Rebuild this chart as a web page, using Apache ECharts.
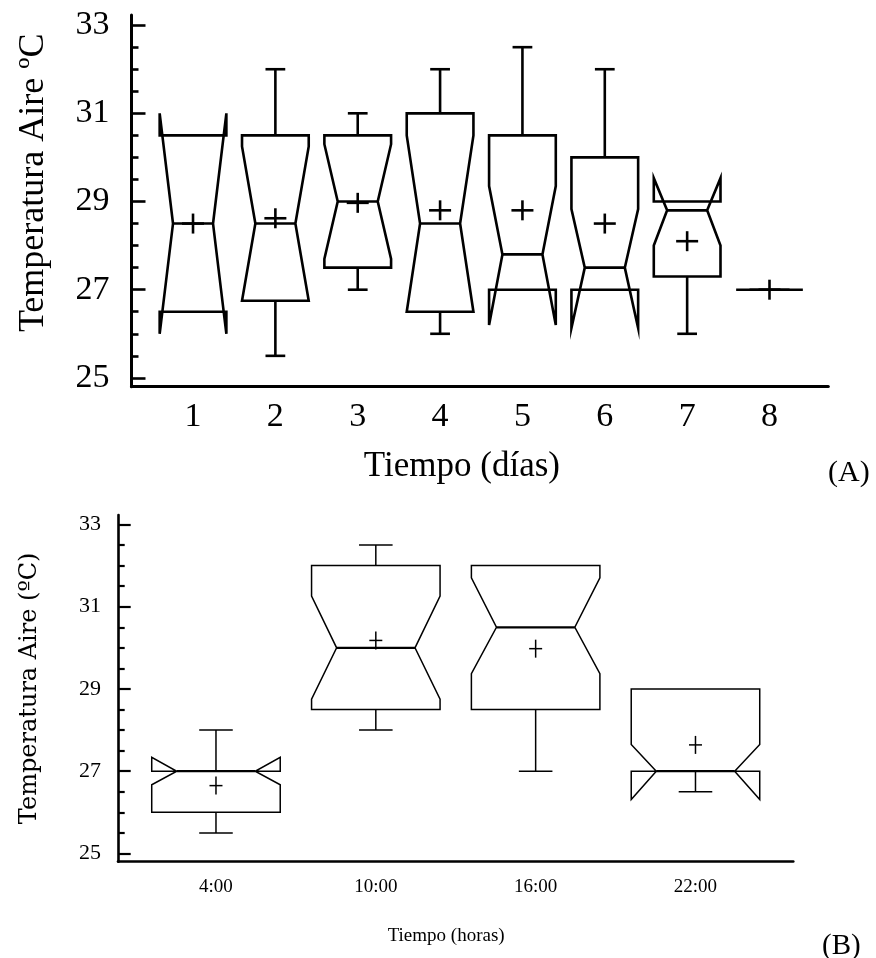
<!DOCTYPE html>
<html>
<head>
<meta charset="utf-8">
<script src="https://cdn.jsdelivr.net/npm/echarts@6/dist/echarts.min.js"></script>
<style>
  html, body { margin: 0; padding: 0; background: #fff; }
  #chart { width: 876px; height: 958px; }
</style>
</head>
<body>
<div id="chart"></div>
<script>
// Panel A: air temperature per day (notched box plots)
const dayLabels   = ['1', '2', '3', '4', '5', '6', '7', '8'];
const dayMin      = [26.5, 25.5, 27.0, 26.0, 27.0, 27.0, 26.0, 27.0];
const dayQ1       = [26.5, 26.75, 27.5, 26.5, 27.0, 27.0, 27.3, 27.0];
const dayNotchLo  = [26.0, 26.75, 27.7, 26.5, 26.2, 26.13, 28.0, 27.0];
const dayMedian   = [28.5, 28.5, 29.0, 28.5, 27.8, 27.5, 28.8, 27.0];
const dayNotchHi  = [31.0, 30.25, 30.3, 30.5, 29.35, 28.83, 29.53, 27.0];
const dayQ3       = [30.5, 30.5, 30.5, 31.0, 30.5, 30.0, 29.0, 27.0];
const dayMax      = [30.5, 32.0, 31.0, 32.0, 32.5, 32.0, 29.0, 27.0];
const dayMean     = [28.5, 28.62, 28.97, 28.8, 28.8, 28.5, 28.1, 27.0];

// Panel B: air temperature per hour of day
const hourLabels  = ['4:00', '10:00', '16:00', '22:00'];
const hourMin     = [25.5, 28.0, 27.0, 26.5];
const hourQ1      = [26.0, 28.5, 28.5, 27.0];
const hourNotchLo = [26.67, 28.75, 29.37, 26.31];
const hourMedian  = [27.0, 30.0, 30.5, 27.0];
const hourNotchHi = [27.34, 31.26, 31.7, 27.65];
const hourQ3      = [27.0, 32.0, 32.0, 29.0];
const hourMax     = [28.0, 32.5, 32.0, 29.0];
const hourMean    = [26.65, 30.18, 29.98, 27.64];

// shared temperature ticks
const tempTicks      = [25, 27, 29, 31, 33];
const tempMinorTicks = [25.5, 26, 26.5, 27.5, 28, 28.5, 29.5, 30, 30.5, 31.5, 32, 32.5];

const serif = "'Liberation Serif', 'Times New Roman', serif";

const buildRows = (labels, mn, q1, nLo, med, nHi, q3, mx, mean) =>
  labels.map((_, i) => [i + 1, mn[i], q1[i], nLo[i], med[i], nHi[i], q3[i], mx[i], mean[i]]);

// notched box drawn through the axis scales
const notchedBox = cfg => (params, api) => {
  const x = api.value(0);
  const [lo, q1, nLo, med, nHi, q3, hi, mean] = [1, 2, 3, 4, 5, 6, 7, 8].map(d => api.value(d));
  const half = cfg.boxWidth / 2;
  const ind = cfg.boxWidth * cfg.notch;
  const p = (dx, v) => api.coord([x + dx, v]);
  const stroke = { stroke: '#000', lineWidth: cfg.lineWidth, fill: null };
  const children = [];

  children.push({
    type: 'polygon',
    shape: {
      points: [
        p(-half, q3), p(-half, nHi), p(-half + ind, med), p(-half, nLo), p(-half, q1),
        p(half, q1), p(half, nLo), p(half - ind, med), p(half, nHi), p(half, q3)
      ]
    },
    style: stroke
  });
  children.push({
    type: 'polyline',
    shape: { points: [p(-half + ind, med), p(half - ind, med)] },
    style: { stroke: '#000', lineWidth: cfg.medianWidth, fill: null }
  });
  const whisker = (from, to) => {
    children.push({ type: 'polyline', shape: { points: [p(0, from), p(0, to)] }, style: stroke });
    children.push({ type: 'polyline', shape: { points: [p(-cfg.cap / 2, to), p(cfg.cap / 2, to)] }, style: stroke });
  };
  if (hi > q3) whisker(q3, hi);
  if (lo < q1) whisker(q1, lo);

  const c = api.coord([x, mean]);
  children.push({
    type: 'polyline',
    shape: { points: [[c[0] - cfg.plusW, c[1]], [c[0] + cfg.plusW, c[1]]] },
    style: stroke
  });
  children.push({
    type: 'polyline',
    shape: { points: [[c[0], c[1] - cfg.plusH], [c[0], c[1] + cfg.plusH]] },
    style: stroke
  });
  return { type: 'group', children };
};

const tempAxes = (grid, s) => [
  {
    gridIndex: grid, type: 'value', min: 24.8, max: 33.23,
    axisLine: { show: true, lineStyle: { color: '#000', width: s.axisW } },
    axisTick: { show: true, inside: true, length: s.major, customValues: tempTicks,
      lineStyle: { color: '#000', width: s.tickW } },
    axisLabel: { customValues: tempTicks, color: '#000', fontFamily: serif,
      fontSize: s.labelSize, margin: s.labelMargin },
    splitLine: { show: false },
    name: s.name, nameLocation: 'middle', nameRotate: 90, nameGap: s.nameGap,
    nameTextStyle: { color: '#000', fontFamily: s.nameFont, fontSize: s.nameSize, padding: s.namePad }
  },
  {
    gridIndex: grid, type: 'value', min: 24.8, max: 33.23, position: 'left',
    axisLine: { show: false },
    axisTick: { show: true, inside: true, length: s.minor, customValues: tempMinorTicks,
      lineStyle: { color: '#000', width: s.tickW } },
    axisLabel: { show: false },
    splitLine: { show: false }
  }
];

const chart = echarts.init(document.getElementById('chart'), null, { renderer: 'canvas' });

chart.setOption({
  animation: false,
  backgroundColor: '#fff',
  grid: [
    { left: 131.5, top: 15, right: 47.7, height: 371.7 },
    { left: 118, top: 515, right: 82.7, height: 346.7 }
  ],
  xAxis: [
    {
      gridIndex: 0, type: 'value', min: 0.253, max: 8.714,
      axisLine: { show: true, lineStyle: { color: '#000', width: 3 } },
      axisTick: { show: false },
      axisLabel: { customValues: dayLabels.map((_, i) => i + 1),
        formatter: v => dayLabels[Math.round(v) - 1],
        color: '#000', fontFamily: serif, fontSize: 34, margin: 13 },
      splitLine: { show: false },
      name: 'Tiempo (días)', nameLocation: 'middle', nameGap: 63,
      nameTextStyle: { color: '#000', fontFamily: serif, fontSize: 35, padding: [0, 36, 0, 0] }
    },
    {
      gridIndex: 1, type: 'value', min: 0.387, max: 4.612,
      axisLine: { show: true, lineStyle: { color: '#000', width: 2.6 } },
      axisTick: { show: false },
      axisLabel: { customValues: hourLabels.map((_, i) => i + 1),
        formatter: v => hourLabels[Math.round(v) - 1],
        color: '#000', fontFamily: serif, fontSize: 19, margin: 16 },
      splitLine: { show: false },
      name: 'Tiempo (horas)', nameLocation: 'middle', nameGap: 65,
      nameTextStyle: { color: '#000', fontFamily: serif, fontSize: 19, padding: [0, 19, 0, 0] }
    }
  ],
  yAxis: [
    ...tempAxes(0, { axisW: 3, tickW: 2.6, major: 14, minor: 7, labelSize: 34, labelMargin: 22,
      name: 'Temperatura Aire ºC', nameGap: 80, nameFont: serif, nameSize: 36, namePad: [0, 0, 0, 36] }),
    ...tempAxes(1, { axisW: 2.6, tickW: 2.2, major: 12.7, minor: 6.7, labelSize: 22, labelMargin: 17,
      name: 'Temperatura Aire (ºC)', nameGap: 76, nameFont: "'DejaVu Serif', serif", nameSize: 24, namePad: [0, 0, 0, 0] })
  ],
  series: [
    {
      type: 'custom', xAxisIndex: 0, yAxisIndex: 0, clip: false,
      renderItem: notchedBox({ boxWidth: 0.81, notch: 0.2, cap: 0.24, lineWidth: 2.6,
        medianWidth: 2.6, plusW: 11, plusH: 10 }),
      encode: { x: 0, y: [1, 2, 3, 4, 5, 6, 7, 8] },
      data: buildRows(dayLabels, dayMin, dayQ1, dayNotchLo, dayMedian, dayNotchHi, dayQ3, dayMax, dayMean)
    },
    {
      type: 'custom', xAxisIndex: 1, yAxisIndex: 2, clip: false,
      renderItem: notchedBox({ boxWidth: 0.804, notch: 0.195, cap: 0.21, lineWidth: 1.5,
        medianWidth: 2.2, plusW: 6.5, plusH: 9 }),
      encode: { x: 0, y: [1, 2, 3, 4, 5, 6, 7, 8] },
      data: buildRows(hourLabels, hourMin, hourQ1, hourNotchLo, hourMedian, hourNotchHi, hourQ3, hourMax, hourMean)
    }
  ],
  graphic: [
    { type: 'text', left: 828, top: 458, style: { text: '(A)', fontFamily: serif, fontSize: 30, fill: '#000' } },
    { type: 'text', left: 822, top: 932, style: { text: '(B)', fontFamily: serif, fontSize: 29, fill: '#000' } }
  ]
});
</script>
</body>
</html>
